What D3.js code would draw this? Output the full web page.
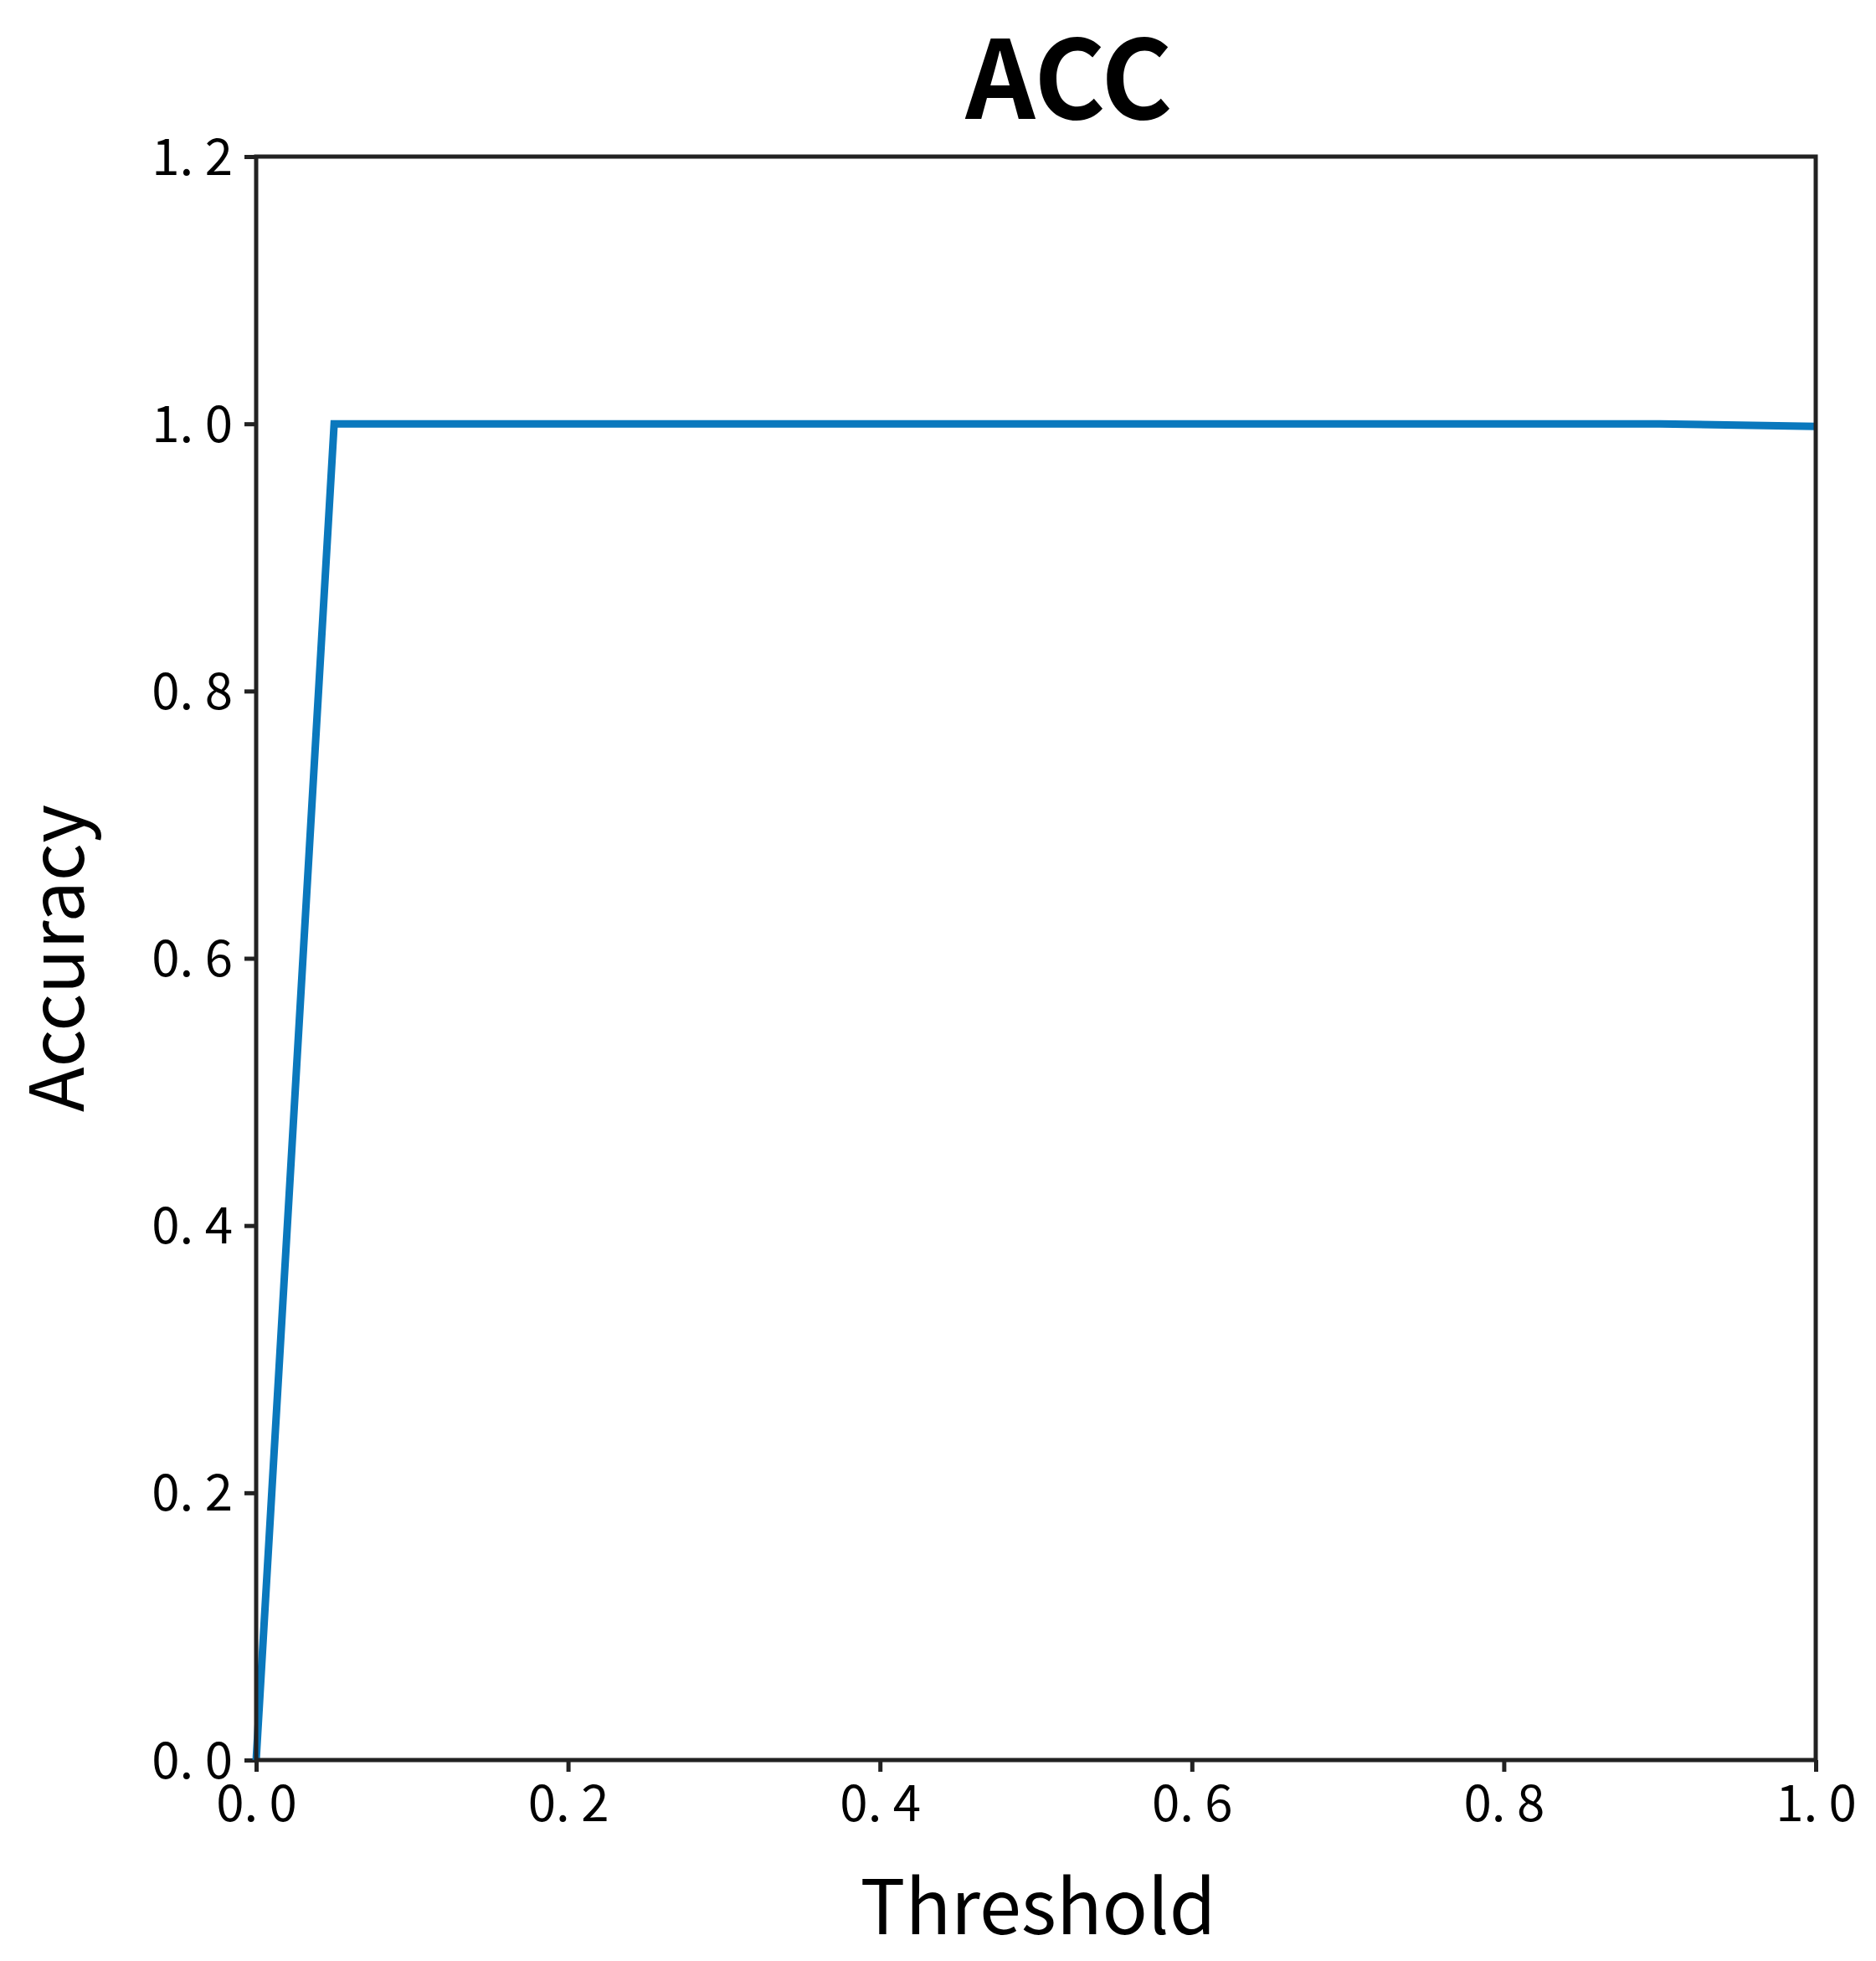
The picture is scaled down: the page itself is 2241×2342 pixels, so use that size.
<!DOCTYPE html><html><head><meta charset="utf-8">
<script src="https://cdn.jsdelivr.net/npm/d3@7"></script>
<style>body{margin:0;background:#fff}text{font-family:"Noto Sans CJK SC","DejaVu Sans",sans-serif;fill:#000}</style>
</head><body><svg id="c" width="2241" height="2342"></svg>
<script>
const thresholds=[0.0,0.05,0.1,0.2,0.3,0.4,0.5,0.6,0.7,0.8,0.9,1.0];
const accuracy=[0.0,1.0,1.0,1.0,1.0,1.0,1.0,1.0,1.0,1.0,1.0,0.998];
const xTicks=[0,0.2,0.4,0.6,0.8,1.0];
const yTicks=[0,0.2,0.4,0.6,0.8,1.0,1.2];
const svg=d3.select("#c");
const L=306,R=2169,T=187,B=2102;
const x=d3.scaleLinear().domain([0,1]).range([L,R]);
const y=d3.scaleLinear().domain([0,1.2]).range([B,T]);
const fmt=d=>d.toFixed(1).replace(".",". ");
const ax=svg.append("g").attr("transform",`translate(0,${B})`).call(d3.axisBottom(x).tickValues(xTicks).tickFormat(fmt).tickSize(14).tickPadding(16));
const ay=svg.append("g").attr("transform",`translate(${L},0)`).call(d3.axisLeft(y).tickValues(yTicks).tickFormat(fmt).tickSize(14).tickPadding(14));
[ax,ay].forEach(g=>{g.selectAll("line").attr("stroke","#222").attr("stroke-width",5);g.select(".domain").remove();g.selectAll("text").attr("font-size",60).attr("fill","#000").style("font-family",'"Noto Sans CJK SC",sans-serif');});
ay.selectAll("text").attr("dy","0.35em");
svg.append("path").datum(thresholds.map((t,i)=>[t,accuracy[i]]))
 .attr("d",d3.line().x(d=>x(d[0])).y(d=>y(d[1]))).attr("fill","none").attr("stroke","#0a78bd").attr("stroke-width",9).attr("stroke-linejoin","miter");
svg.append("rect").attr("x",L).attr("y",T).attr("width",R-L).attr("height",B-T).attr("fill","none").attr("stroke","#222").attr("stroke-width",5);
svg.append("text").attr("x",1277).attr("y",142).attr("text-anchor","middle").attr("font-size",130).attr("font-weight","bold").text("ACC");
svg.append("text").attr("x",1240).attr("y",2310).attr("text-anchor","middle").attr("font-size",90).text("Threshold");
svg.append("text").attr("transform",`translate(100,${(T+B)/2}) rotate(-90)`).attr("text-anchor","middle").attr("font-size",88).text("Accuracy");
</script></body></html>
